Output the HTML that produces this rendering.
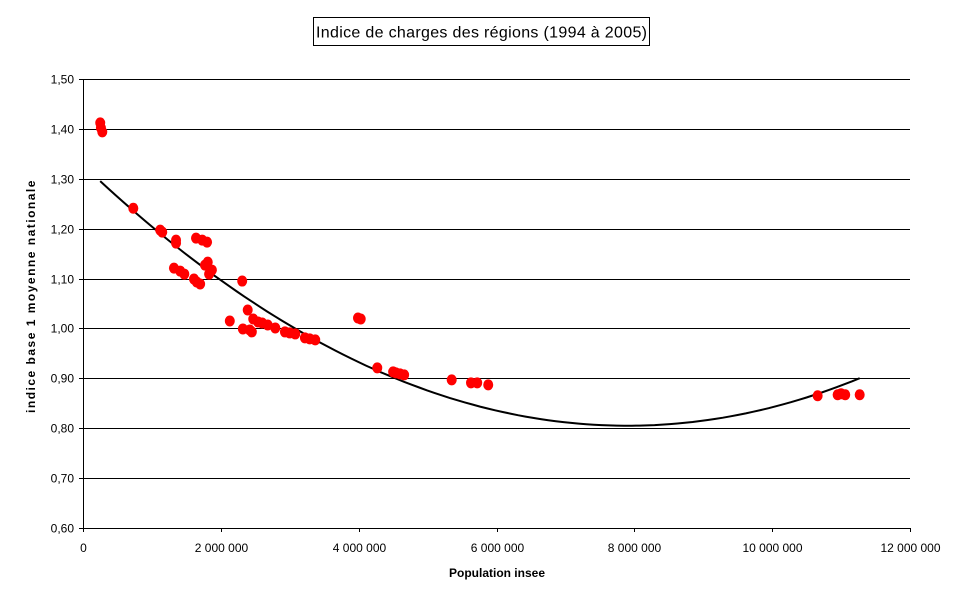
<!DOCTYPE html>
<html><head><meta charset="utf-8"><style>
body{margin:0;background:#fff;font-family:"Liberation Sans",Arial,sans-serif}
svg{display:block}
</style></head><body>
<svg id="chart" width="964" height="600" xmlns="http://www.w3.org/2000/svg">
<rect x="0" y="0" width="964" height="600" fill="#fff"/>
<g>
<rect x="313.5" y="17.5" width="336" height="28" fill="#fff" stroke="#000"/>
<text x="316" y="37.5" font-size="16" textLength="331" lengthAdjust="spacing">Indice de charges des régions (1994 à 2005)</text>
</g>
<g id="grid"></g>
<g id="yticks"></g>
<g id="xticks"></g>
<g id="trend"></g>
<g id="points"></g>
<text x="0" y="0" transform="translate(35,296) rotate(-90)" text-anchor="middle" font-size="12" font-weight="bold" letter-spacing="1.5">indice base 1 moyenne nationale</text>
<text x="497" y="577" text-anchor="middle" font-size="12" font-weight="bold">Population insee</text>
</svg>
<script>
const popMillions=[0.25,0.26,0.28,0.73,1.12,1.15,1.35,1.35,1.32,1.41,1.47,1.61,1.65,1.70,1.64,1.73,1.80,1.81,1.77,1.87,1.83,2.13,2.31,2.32,2.39,2.45,2.47,2.42,2.54,2.60,2.68,2.79,2.93,3.00,3.08,3.22,3.29,3.37,3.99,4.03,4.27,4.50,4.54,4.60,4.66,5.35,5.63,5.72,5.88,10.66,10.95,11.00,11.06,11.27];
const indexValues=[1.412,1.402,1.394,1.241,1.197,1.193,1.177,1.171,1.121,1.115,1.109,1.099,1.093,1.089,1.181,1.177,1.173,1.133,1.127,1.117,1.109,1.015,1.095,0.999,1.037,0.993,1.019,0.997,1.013,1.011,1.007,1.001,0.993,0.991,0.989,0.981,0.979,0.977,1.021,1.019,0.921,0.913,0.911,0.909,0.907,0.897,0.891,0.891,0.887,0.865,0.867,0.869,0.867,0.867];
const trendCoeffs=[1.328,-0.1324,0.00838];
const trendRange=[0.25,11.27];
const yTickValues=[0.6,0.7,0.8,0.9,1.0,1.1,1.2,1.3,1.4,1.5];
const yTickLabels=["0,60","0,70","0,80","0,90","1,00","1,10","1,20","1,30","1,40","1,50"];
const xTickValues=[0,2,4,6,8,10,12];
const xTickLabels=["0","2 000 000","4 000 000","6 000 000","8 000 000","10 000 000","12 000 000"];
const NS="http://www.w3.org/2000/svg";
const L=83,R=910,T=79,B=528;
const xs=v=>L+(v-0)/(12-0)*(R-L);
const ys=v=>B-(v-0.6)/(1.5-0.6)*(B-T);
function mk(tag,attrs,parent){const e=document.createElementNS(NS,tag);for(const k in attrs)e.setAttribute(k,attrs[k]);parent.appendChild(e);return e;}
const grid=document.getElementById('grid');
yTickValues.forEach((v,i)=>{
  if(i>0){const ln=mk('line',{x1:L,x2:R,y1:Math.round(ys(v))+0.5,y2:Math.round(ys(v))+0.5,stroke:'#000','stroke-width':1},grid);
  
  }
});
const ax1=mk('line',{x1:L+0.5,x2:L+0.5,y1:T,y2:B+4,stroke:'#000'},grid);


const ax2=mk('line',{x1:L-4,x2:R,y1:B+0.5,y2:B+0.5,stroke:'#000'},grid);


const yt=document.getElementById('yticks');
yTickValues.forEach((v,i)=>{
  const y=Math.round(ys(v))+0.5;
  const tk=mk('line',{x1:L-4,x2:L,y1:y,y2:y,stroke:'#000'},yt);
  
  
  const t=mk('text',{x:L-9,y:y+4,'text-anchor':'end','font-size':12},yt);
  t.textContent=yTickLabels[i];
  
  
});
const xt=document.getElementById('xticks');
xTickValues.forEach((v,i)=>{
  const x=Math.round(xs(v))+0.5;
  const tk=mk('line',{x1:x,x2:x,y1:B,y2:B+4,stroke:'#000'},xt);
  
  
  const t=mk('text',{x:x,y:B+24,'text-anchor':'middle','font-size':12},xt);
  t.textContent=xTickLabels[i];
  
  
});
const tr=document.getElementById('trend');
let d='';
for(let k=0;k<=100;k++){const x=trendRange[0]+(trendRange[1]-trendRange[0])*k/100;
  const y=trendCoeffs[0]+trendCoeffs[1]*x+trendCoeffs[2]*x*x;
  d+=(k?'L':'M')+xs(x).toFixed(1)+' '+ys(y).toFixed(1);}
const p=mk('path',{d:d,fill:'none',stroke:'#000','stroke-width':2},tr);


const pts=document.getElementById('points');
popMillions.forEach((v,i)=>{
  const c=mk('ellipse',{cx:xs(v),cy:ys(indexValues[i]),rx:5,ry:5.5,fill:'#ff0000'},pts);
  
  
});
</script>
</body></html>
